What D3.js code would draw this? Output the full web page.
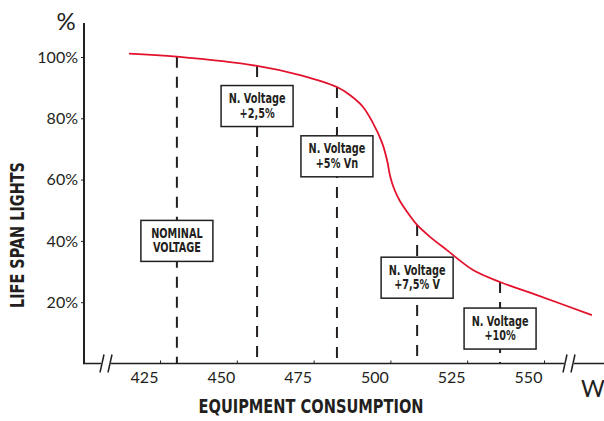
<!DOCTYPE html>
<html><head><meta charset="utf-8">
<script src="https://cdn.jsdelivr.net/npm/d3@7"></script>
<style>
body{margin:0;background:#fff;}
svg{display:block;}
.tick text{font-family:Lato,"Open Sans",sans-serif;}
</style></head>
<body>
<svg id="c" width="604" height="421"></svg>
<script>
// Data
const curveW   = [414.9, 430.5, 456.6, 470.6, 482.6, 486.8, 491.1, 494.3, 497.3, 498.9, 499.9, 501.2, 503.1, 505.7, 508.7, 512.9, 518.4, 526.9, 535.7, 547.7, 565.6];
const curvePct = [101.1, 100.1, 97.1, 94.1, 90.2, 87.6, 83.7, 78.5, 72.0, 66.4, 61.2, 57.0, 53.0, 49.1, 45.2, 41.3, 37.0, 30.5, 26.6, 22.3, 15.8];
const markerW   = [430.5, 456.6, 482.6, 508.7, 535.7];
const markerPct = [100.1, 97.1, 90.2, 45.2, 26.6];
const markerLabels = [["NOMINAL","VOLTAGE"],["N. Voltage","+2,5%"],["N. Voltage","+5% Vn"],["N. Voltage","+7,5% V"],["N. Voltage","+10%"]];
const labelPct  = [40, 84, 67.6, 28, 11.4]; // box centre heights (in % units)
const xTicks = [425, 450, 475, 500, 525, 550];
const yTicks = [20, 40, 60, 80, 100];

const svg = d3.select("#c");
const x = d3.scaleLinear().domain([425, 550]).range([160, 544]);
const y = d3.scaleLinear().domain([0, 100]).range([363.5, 57]);
const axisColor = "#231f20";
const xLeft = 84, xRight = 604, yTop = 23;
const condFont = '"DejaVu Sans Condensed","DejaVu Sans",Arial,sans-serif';

// Dashed marker lines
svg.append("g").selectAll("line").data(markerW).join("line")
  .attr("x1", d => x(d)).attr("x2", d => x(d))
  .attr("y1", (d,i) => y(markerPct[i])).attr("y2", y(0))
  .attr("stroke", axisColor).attr("stroke-width", 2)
  .attr("stroke-dasharray", "11,9");

// Curve
const line = d3.line().x(d => x(d[0])).y(d => y(d[1])).curve(d3.curveCatmullRom.alpha(0.5));
svg.append("path").datum(curveW.map((w,i) => [w, curvePct[i]]))
  .attr("d", line).attr("fill", "none").attr("stroke", "#e3122d").attr("stroke-width", 1.8);

// Boxes
const bw = 72, bh = 41;
const boxes = svg.append("g").selectAll("g").data(markerW).join("g")
  .attr("transform", (d,i) => `translate(${x(d)},${y(labelPct[i])})`);
boxes.append("rect").attr("x", -bw/2).attr("y", -bh/2).attr("width", bw).attr("height", bh)
  .attr("fill", "#fff").attr("stroke", axisColor).attr("stroke-width", 1.5);
boxes.each(function(d,i){
  const g = d3.select(this);
  markerLabels[i].forEach((t,j) => {
    g.append("text").attr("transform", `translate(0,${j === 0 ? -3 : 11.5}) scale(0.8,1)`)
      .attr("text-anchor", "middle")
      .attr("font-family", condFont)
      .attr("font-weight", "bold").attr("font-size", 13.5)
      .attr("fill", "#231f20").text(t);
  });
});

// Y axis
const yAxis = d3.axisLeft(y).tickValues(yTicks).tickFormat(d => d + "%").tickSize(3).tickPadding(3);
const gy = svg.append("g").attr("transform", `translate(${xLeft},0)`).call(yAxis);
gy.select(".domain").remove();
gy.selectAll(".tick line").attr("stroke", axisColor);
gy.selectAll(".tick text").attr("font-size", 16).attr("fill", "#231f20");
svg.append("line").attr("x1", xLeft).attr("x2", xLeft).attr("y1", yTop).attr("y2", y(0)+0.5)
  .attr("stroke", axisColor).attr("stroke-width", 2);

// X axis
const xAxis = d3.axisBottom(x).tickValues(xTicks).tickSize(-3).tickPadding(8);
const gx = svg.append("g").attr("transform", `translate(0,${y(0)})`).call(xAxis);
gx.select(".domain").remove();
gx.selectAll(".tick line").attr("stroke", axisColor);
gx.selectAll(".tick text").attr("font-size", 16).attr("fill", "#231f20").attr("dx", -16);
svg.append("line").attr("x1", xLeft - 1).attr("x2", xRight).attr("y1", y(0)).attr("y2", y(0))
  .attr("stroke", axisColor).attr("stroke-width", 1.5);

// Break marks
[101, 564].forEach(bx => {
  svg.append("rect").attr("x", bx).attr("y", y(0) - 3).attr("width", 10).attr("height", 6).attr("fill", "#fff");
  [0, 8].forEach(o => {
    svg.append("line").attr("x1", bx + o + 3).attr("y1", y(0) - 9).attr("x2", bx + o - 1).attr("y2", y(0) + 9)
      .attr("stroke", axisColor).attr("stroke-width", 1.5);
  });
});

// Units
svg.append("text").attr("x", 66).attr("y", 30).attr("text-anchor", "middle")
  .attr("font-family", "Lato,sans-serif").attr("font-size", 24).attr("fill", "#231f20").text("%");
svg.append("text").attr("x", 593).attr("y", 397).attr("text-anchor", "middle")
  .attr("font-family", "Lato,sans-serif").attr("font-size", 23).attr("fill", "#231f20").text("W");

// Axis titles
svg.append("text").attr("transform", "translate(24,235) rotate(-90)").attr("text-anchor", "middle")
  .attr("font-family", condFont).attr("font-weight", "bold").attr("font-size", 19)
  .attr("textLength", 146).attr("lengthAdjust", "spacingAndGlyphs")
  .attr("fill", "#231f20").text("LIFE SPAN LIGHTS");
svg.append("text").attr("x", 311).attr("y", 413).attr("text-anchor", "middle")
  .attr("font-family", condFont).attr("font-weight", "bold").attr("font-size", 20)
  .attr("textLength", 225).attr("lengthAdjust", "spacingAndGlyphs")
  .attr("fill", "#231f20").text("EQUIPMENT CONSUMPTION");
</script>
</body></html>
